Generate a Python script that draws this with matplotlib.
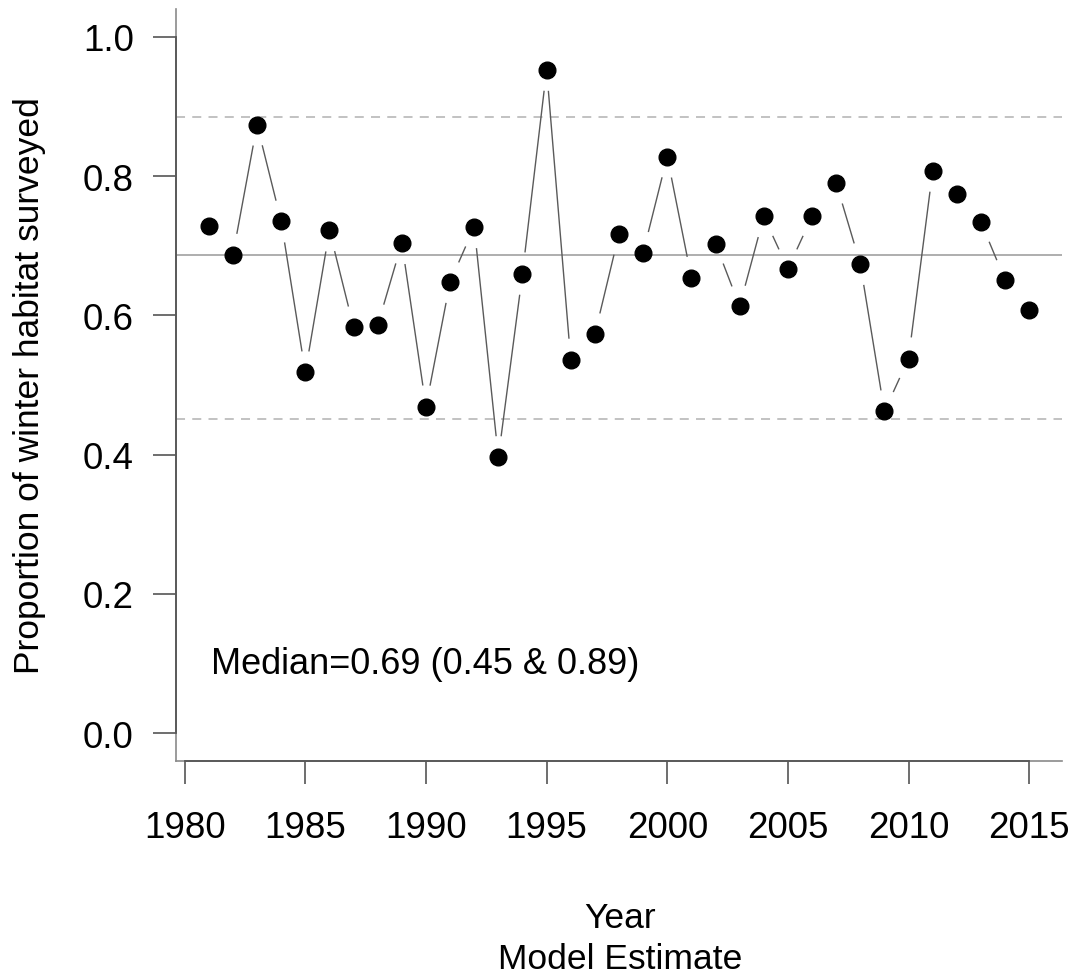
import numpy as np
import matplotlib
matplotlib.use("Agg")
import matplotlib.pyplot as plt

plt.rcParams["font.family"] = ["Liberation Sans", "DejaVu Sans"]

years = np.arange(1981, 2016)
proportion = [
    0.729, 0.687, 0.874, 0.735, 0.518, 0.722, 0.583, 0.586, 0.704, 0.469,
    0.648, 0.727, 0.396, 0.660, 0.953, 0.536, 0.573, 0.717, 0.690, 0.828,
    0.654, 0.703, 0.613, 0.742, 0.667, 0.742, 0.790, 0.674, 0.462, 0.538,
    0.808, 0.775, 0.734, 0.651, 0.608,
]
median_value = 0.687
lower_bound = 0.451
upper_bound = 0.885
x_ticks = [1980, 1985, 1990, 1995, 2000, 2005, 2010, 2015]
y_ticks = [0.0, 0.2, 0.4, 0.6, 0.8, 1.0]

DPI = 100
fig = plt.figure(figsize=(10.73, 9.79), dpi=DPI)
ax = fig.add_axes([176 / 1073, 1 - 762 / 979, (1062 - 176) / 1073, (762 - 10) / 979])
ax.set_xlim(1979.64, 2016.36)
ax.set_ylim(-0.04, 1.04)

# reference lines
ax.axhline(median_value, color="#a8a8a8", lw=1.3, zorder=1)
for bound in (lower_bound, upper_bound):
    ax.axhline(bound, color="#bdbdbd", lw=1.3, dashes=(5, 4), zorder=1)

# R type="b": segments broken around each point
gap = 22.0
pts = ax.transData.transform(np.column_stack([years, proportion]))
inv = ax.transData.inverted()
for p0, p1 in zip(pts[:-1], pts[1:]):
    d = p1 - p0
    length = np.hypot(*d)
    if length <= 2 * gap:
        continue
    u = d / length
    seg = inv.transform(np.vstack([p0 + u * gap, p1 - u * gap]))
    ax.plot(seg[:, 0], seg[:, 1], color="#5a5a5a", lw=1.0, zorder=2)

ax.plot(years, proportion, "o", color="black", markersize=12, zorder=3)

ax.text(1981.1, 0.1, "Median=0.69 (0.45 & 0.89)", fontsize=26, ha="left", va="center")

for side in ("top", "right"):
    ax.spines[side].set_visible(False)
for side in ("left", "bottom"):
    ax.spines[side].set_color("#8a8a8a")
    ax.spines[side].set_linewidth(1.2)
# darker axis lines between first and last ticks
ax.plot([x_ticks[0], x_ticks[-1]], [0, 0], color="#555555", lw=1.3,
        transform=ax.get_xaxis_transform(), clip_on=False, zorder=4)
ax.plot([0, 0], [y_ticks[0], y_ticks[-1]], color="#555555", lw=1.3,
        transform=ax.get_yaxis_transform(), clip_on=False, zorder=4)

ax.set_xticks(x_ticks)
ax.set_yticks(y_ticks)
ax.set_yticklabels([f"{v:.1f}" for v in y_ticks])
ax.tick_params(axis="both", direction="out", length=16.5, width=1.2,
               color="#555555", labelsize=26.5)
ax.tick_params(axis="x", pad=19)
ax.tick_params(axis="y", pad=14)

fig.text(620 / 1073, 1 - 939 / 979, "Year\nModel Estimate", fontsize=25.5,
         ha="center", va="center", linespacing=1.3)
fig.text(30 / 1073, 1 - 386 / 979, "Proportion of winter habitat surveyed",
         fontsize=25.5, rotation=90, ha="center", va="center")

fig.savefig("out.png", dpi=DPI)
